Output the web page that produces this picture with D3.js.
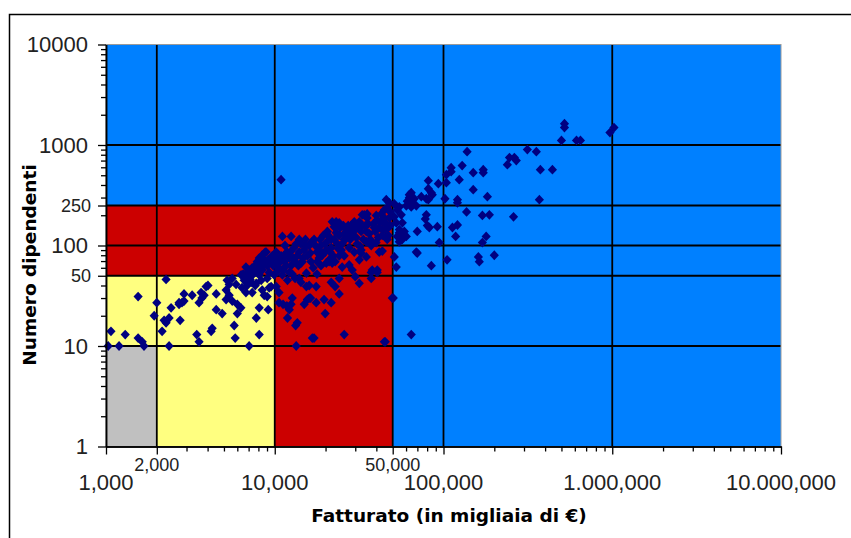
<!DOCTYPE html>
<html>
<head>
<meta charset="utf-8">
<script src="https://cdn.jsdelivr.net/npm/d3@7"></script>
<style>
  body { margin: 0; background: #fff; }
  svg { display: block; }
</style>
</head>
<body>
<svg id="chart" width="851" height="538"></svg>
<script>
// Etichette degli assi
const xMain = [1000, 10000, 100000, 1000000, 10000000];
const xMainLabels = ["1,000", "10,000", "100,000", "1.000,000", "10.000,000"];
const xSecondary = [2000, 50000];
const xSecondaryLabels = ["2,000", "50,000"];
const yMain = [1, 10, 100, 1000, 10000];
const yMainLabels = ["1", "10", "100", "1000", "10000"];
const ySecondary = [50, 250];
const ySecondaryLabels = ["50", "250"];

// Linee di griglia
const xGrid = [2000, 10000, 50000, 100000, 1000000];
const yGrid = [10, 50, 100, 250, 1000];

// Classi dimensionali: soglia di fatturato (migliaia di €) e di dipendenti
const fasce = ["grande", "media", "piccola", "micro"];
const fasceFatturato = [10000000, 50000, 10000, 2000];
const fasceDipendenti = [10000, 250, 50, 10];

// Imprese: [fatturato in migliaia di €, numero dipendenti]
const impresePiccole = [
  [1030,10],[1195,10],[1070,14],[1300,13],[1550,12],[1640,11],[1680,10],[1550,31],[2000,27],[1930,20],
  [2270,46],[2365,10],[2150,14],[2270,17],[2365,19],[2210,18],[2430,24],[2710,27],[2750,18],[2900,28],
  [2900,33],[3240,32],[3560,27],[3660,34],[3920,39],[4020,40],[4500,33],[4500,23],[4880,21],[3450,13],
  [3560,11],[4200,14],[4260,15],[5750,16],[5830,12],[7050,10],[8090,13],[7770,19],[8090,24],[9150,23],
  [9020,31],[8660,32],[5150,36],[5370,32],[5150,29],[5600,28],[6000,26],[6300,24],[6000,21],[5220,45],
  [5600,47],[5370,41],[5900,41],[6400,38],[6750,45],[7250,43],[7770,42],[6750,34],[7350,34],[8430,36],
  [9270,38],[9520,39],[3815,32],[3700,30],[2820,27],[2710,26]
];

const impreseMedie = [
  [13400,10],[13600,17],[11900,19],[12200,23],[11200,26],[10600,27],[13300,16],[12700,30],[12500,26],[11800,25],
  [14950,26],[15600,29],[16300,30],[16700,12],[17100,12],[19900,21],[21600,27],[19600,29],[17600,27],[16000,30],
  [17600,39],[16000,40],[21600,43],[24100,47],[25800,13],[44600,11],[49700,30],[37300,54],[40500,54],[37300,47],
  [28800,57],[27600,64],[25100,61],[21900,67],[20200,67],[14300,67],[15400,53],[13960,47],[10600,60],[11100,51],
  [12200,54],[10200,39],[10600,34],[14300,43],[15400,39],[22800,39],[24100,33],[30000,49],[31700,42],[37800,57],
  [40500,57],[43400,88],
  [6320,51],[6860,54],[7550,60],[7250,50],[7870,69],[6590,45],[6500,52],[7050,57],[7660,63],[8090,65],
  [8310,75],[8780,86],[8540,69],[9020,63],[9530,69],[9270,54],[10060,75],[9790,63],[10340,69],[10920,79],
  [11400,69],[11850,86],[12200,75],[12500,63],[13000,95],[13600,79],[13200,69],[11500,100],[11200,57],[12700,52],
  [13800,63],[11900,45],[13200,47],[14300,104],[14900,90],[15600,79],[16000,100],[16400,69],[17100,115],[17800,86],
  [18300,75],[18800,100],[19400,126],[15200,115],[16900,60],[17800,52],[18800,63],[19900,86],[14700,75],[20500,138],
  [21000,115],[21600,95],[22200,79],[22800,151],[23500,104],[24100,126],[24800,90],[25500,158],[26200,115],[26900,138],
  [27600,95],[22800,69],[25800,79],[21000,69],[28400,158],[29200,126],[30000,144],[30800,104],[31700,172],[32500,138],
  [33500,115],[34400,158],[35300,188],[36300,131],[37300,100],[38400,164],[29600,86],[32500,90],[39400,138],[40500,180],
  [41600,151],[42800,206],[44000,172],[45200,144],[46400,237],[47700,188],[48400,158],[44600,226],[41100,120],[47100,126],
  [11100,123],[12500,123],[8900,86],[8420,75],[21900,172],[24100,168],[33900,202],[35300,206],[43400,144],[46400,115],
  [39900,107],[41600,86],[33000,202],[29600,172],[30400,160],[23100,172],[22500,154],[26500,144],[25800,115],[21600,115],
  [20200,90],[18300,90],[21900,77],[21000,72],[34900,77],[31700,72],[32500,84],[37800,107],[45800,120],[34900,109],
  [8420,80],[8090,51],[8420,57],[7350,60],[6750,61],[8090,75],
  [6680,50],[7150,46],[7450,52],[7870,56],[8200,60],[8660,64],[9140,72],[9660,79],[10200,86],[10770,69],
  [10480,57],[11690,63],[12350,86],[12860,75],[13400,104],[13960,86],[14550,69],[15360,100],[16220,84],[16670,109],
  [17600,98],[18590,115],[19110,80],[19910,104],[20740,126],[21320,86],[22510,115],[23130,134],[23780,93],[24430,151],
  [25110,104],[25810,131],[27260,158],[28010,115],[28790,138],[30400,120],[31240,151],[32110,98],[33000,158],[34850,138],
  [35820,164],[36810,115],[38870,151],[39950,199],[42190,172],[43360,126],[44560,188],[47060,151],[48370,216],[45800,164],
  [9920,51],[9020,47],[8310,45],[7660,40],[6860,40],[11380,80],[13960,115],[17850,69],[24100,79],[27630,126]
];

const impreseGrandi = [
  [521000,1630],[521000,1490],[1024000,1490],[969000,1330],[500000,1110],[614000,1110],[648000,1110],[314000,900],[355000,858],[138000,858],
  [246000,749],[263000,749],[270000,700],[239000,637],[129000,624],[111000,595],[111000,543],[375000,568],[442000,568],[172000,568],
  [172000,530],[150000,530],[104000,507],[124000,452],[81300,442],[104000,422],[93200,412],[81300,367],[84700,335],[85800,320],
  [150000,359],[64400,335],[62700,320],[73900,306],[79100,292],[81300,286],[102000,292],[121000,286],[121000,266],[182000,306],
  [370000,286],[45800,286],[61000,276],[65300,266],[69000,248],[64400,242],[60200,248],[54700,242],[56200,202],[51100,193],
  [137000,216],[79100,202],[78000,184],[170000,199],[187000,202],[260000,193],[80200,158],[82400,151],[91900,154],[113000,151],
  [121000,160],[69900,138],[58600,138],[57000,128],[118000,123],[179000,123],[170000,107],[94400,107],[54700,109],[57000,120],
  [69000,86],[69900,84],[200000,80],[161000,77],[163000,69],[105000,72],[84700,63],[51100,77],[52500,61],[50400,30],
  [64400,13],[45200,11],[10900,452],[62700,299],[67100,292],[52500,168],[54700,144],[53200,123],[60200,123],[53200,226],
  [57000,168],[54700,134],[57000,115],[51100,260],[47700,266]
];

const colori = { grande: "#0080ff", media: "#cc0000", piccola: "#ffff80", micro: "#c0c0c0" };

const svg = d3.select("#chart");
const plot = { left: 106, right: 781, top: 44.5, bottom: 446.5 };

const x = d3.scaleLog().domain([1000, 10000000]).range([plot.left, plot.right]);
const y = d3.scaleLog().domain([1, 10000]).range([plot.bottom, plot.top]);

// Cornice esterna
svg.append("path")
  .attr("d", "M9.5,538 L9.5,14.5 L851,14.5")
  .attr("fill", "none").attr("stroke", "#000").attr("stroke-width", 1.5);

// Fasce colorate
svg.append("g").selectAll("rect")
  .data(fasce.map((f, i) => ({ f, fx: fasceFatturato[i], fy: fasceDipendenti[i] })))
  .join("rect")
  .attr("x", x(1000))
  .attr("y", d => y(d.fy))
  .attr("width", d => x(d.fx) - x(1000))
  .attr("height", d => y(1) - y(d.fy))
  .attr("fill", d => colori[d.f]);

// Griglia
const grid = svg.append("g").attr("stroke", "#000").attr("stroke-width", 1.8);
grid.selectAll("line.v").data(xGrid).join("line").attr("class", "v")
  .attr("x1", d => x(d)).attr("x2", d => x(d))
  .attr("y1", plot.top).attr("y2", plot.bottom);
grid.selectAll("line.h").data(yGrid).join("line").attr("class", "h")
  .attr("x1", plot.left).attr("x2", plot.right)
  .attr("y1", d => y(d)).attr("y2", d => y(d));

// Bordo area del grafico
svg.append("rect")
  .attr("x", plot.left).attr("y", plot.top)
  .attr("width", plot.right - plot.left).attr("height", plot.bottom - plot.top)
  .attr("fill", "none").attr("stroke", "#9a9a9a").attr("stroke-width", 1);

// Punti
const diamond = "M0,-4.9L4.6,0L0,4.9L-4.6,0Z";
const tutte = impresePiccole.concat(impreseMedie, impreseGrandi);
svg.append("g").selectAll("path")
  .data(tutte)
  .join("path")
  .attr("d", diamond)
  .attr("transform", d => `translate(${x(d[0])},${y(d[1])})`)
  .attr("fill", "#000080");

// Assi
const labelled = new Set(xMain.concat(xSecondary));
const xMinor = x.ticks().filter(v => !labelled.has(v));
const yLabelled = new Set(yMain.concat(ySecondary));
const yMinor = y.ticks().filter(v => !yLabelled.has(v));

const xAxisG = svg.append("g").attr("transform", `translate(0,${plot.bottom})`);
xAxisG.append("g").call(d3.axisBottom(x).tickValues(xMinor).tickSize(5).tickFormat("").tickSizeOuter(0));
xAxisG.append("g").call(d3.axisBottom(x).tickValues(xMain.concat(xSecondary)).tickSize(8).tickFormat("").tickSizeOuter(0));
xAxisG.selectAll(".domain").attr("stroke", "#000").attr("stroke-width", 1.5);
xAxisG.selectAll(".tick line").attr("stroke", "#000").attr("stroke-width", 1.3);

const yAxisG = svg.append("g").attr("transform", `translate(${plot.left},0)`);
yAxisG.append("g").call(d3.axisLeft(y).tickValues(yMinor).tickSize(5).tickFormat("").tickSizeOuter(0));
yAxisG.append("g").call(d3.axisLeft(y).tickValues(yMain.concat(ySecondary)).tickSize(8).tickFormat("").tickSizeOuter(0));
yAxisG.selectAll(".domain").attr("stroke", "#000").attr("stroke-width", 1.5);
yAxisG.selectAll(".tick line").attr("stroke", "#000").attr("stroke-width", 1.3);

const font = "'Liberation Sans', Arial, sans-serif";

// Etichette asse X
svg.append("g").selectAll("text").data(xMain).join("text")
  .attr("x", d => x(d)).attr("y", 490)
  .attr("text-anchor", "middle")
  .attr("font-family", font).attr("font-size", 22).attr("fill", "#222")
  .text((d, i) => xMainLabels[i]);
svg.append("g").selectAll("text").data(xSecondary).join("text")
  .attr("x", d => x(d)).attr("y", 471)
  .attr("text-anchor", "middle")
  .attr("font-family", font).attr("font-size", 18).attr("fill", "#222")
  .text((d, i) => xSecondaryLabels[i]);

// Etichette asse Y
svg.append("g").selectAll("text").data(yMain).join("text")
  .attr("x", 88).attr("y", d => y(d)).attr("dy", "0.36em")
  .attr("text-anchor", "end")
  .attr("font-family", font).attr("font-size", 22).attr("fill", "#222")
  .text((d, i) => yMainLabels[i]);
svg.append("g").selectAll("text").data(ySecondary).join("text")
  .attr("x", 91).attr("y", d => y(d)).attr("dy", "0.36em")
  .attr("text-anchor", "end")
  .attr("font-family", font).attr("font-size", 18).attr("fill", "#222")
  .text((d, i) => ySecondaryLabels[i]);

// Titoli degli assi
svg.append("text")
  .attr("x", 449).attr("y", 522)
  .attr("text-anchor", "middle")
  .attr("font-family", "'DejaVu Sans', Verdana, sans-serif")
  .attr("font-weight", "bold").attr("font-size", 18.5).attr("fill", "#000")
  .text("Fatturato (in migliaia di €)");
svg.append("text")
  .attr("transform", "translate(36,265) rotate(-90)")
  .attr("text-anchor", "middle")
  .attr("font-family", "'DejaVu Sans', Verdana, sans-serif")
  .attr("font-weight", "bold").attr("font-size", 18.5).attr("fill", "#000")
  .text("Numero dipendenti");
</script>
</body>
</html>
